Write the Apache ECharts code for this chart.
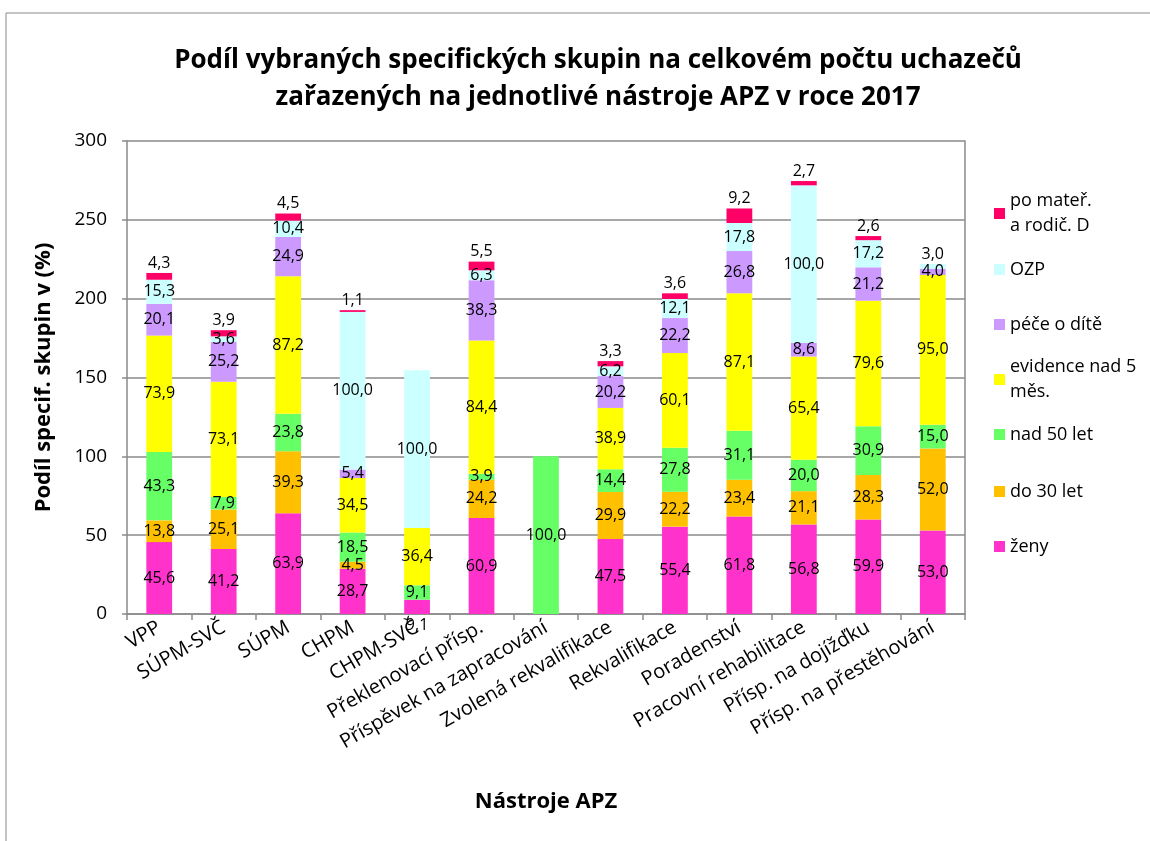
<!DOCTYPE html>
<html><head><meta charset="utf-8">
<script src="https://cdn.jsdelivr.net/npm/echarts@6/dist/echarts.min.js"></script>
<style>html,body{margin:0;padding:0;background:#fff}#c{width:1150px;height:841px}</style>
</head><body><div id="c"></div>
<script>
const categories = ['VPP','SÚPM-SVČ','SÚPM','CHPM','CHPM-SVČ','Překlenovací přísp.','Příspěvek na zapracování','Zvolená rekvalifikace','Rekvalifikace','Poradenství','Pracovní rehabilitace','Přísp. na dojížďku','Přísp. na přestěhování'];
const seriesNames = ['ženy','do 30 let','nad 50 let','evidence nad 5 měs.','péče o dítě','OZP','po mateř. a rodič. D'];
const zeny      = [45.6, 41.2, 63.9, 28.7, 9.1, 60.9, null, 47.5, 55.4, 61.8, 56.8, 59.9, 53.0];
const do30      = [13.8, 25.1, 39.3, 4.5, null, 24.2, null, 29.9, 22.2, 23.4, 21.1, 28.3, 52.0];
const nad50     = [43.3, 7.9, 23.8, 18.5, 9.1, 3.9, 100.0, 14.4, 27.8, 31.1, 20.0, 30.9, 15.0];
const evidence  = [73.9, 73.1, 87.2, 34.5, 36.4, 84.4, null, 38.9, 60.1, 87.1, 65.4, 79.6, 95.0];
const pece      = [20.1, 25.2, 24.9, 5.4, null, 38.3, null, 20.2, 22.2, 26.8, 8.6, 21.2, 4.0];
const ozp       = [15.3, 3.6, 10.4, 100.0, 100.0, 6.3, null, 6.2, 12.1, 17.8, 100.0, 17.2, 3.0];
const materska  = [4.3, 3.9, 4.5, 1.1, null, 5.5, null, 3.3, 3.6, 9.2, 2.7, 2.6, null];
const yTicks = [0, 50, 100, 150, 200, 250, 300];

const values = [zeny, do30, nad50, evidence, pece, ozp, materska];
const colors = ['#FF33CC','#FFC000','#66FF66','#FFFF00','#CC99FF','#CCFFFF','#FF0066'];
const FONT = '"Open Sans", "Noto Sans", sans-serif';
const fmt = p => (p.value == null ? '' : Number(p.value).toFixed(1).replace('.', ','));

const series = values.map((arr, si) => ({
  name: seriesNames[si],
  type: 'bar',
  stack: 'total',
  barWidth: '40%',
  itemStyle: { color: colors[si] },
  label: { show: true, position: si === 6 ? 'top' : 'inside', color: '#000', fontFamily: FONT, fontSize: 16, formatter: fmt, distance: 2 },
  labelLayout: { hideOverlap: false },
  data: arr.map((v, ci) => {
    if (v == null) return '-';
    // labels that sit outside their segment in the reference
    if (si === 0 && ci === 4) return { value: v, label: { position: 'bottom', distance: 3, offset: [8, 0] } };
    if (si === 5 && ci === 12) return { value: v, label: { position: 'top', distance: 2 } };
    return v;
  })
}));

const legendOrder = seriesNames.slice().reverse();
const legendTops = [176, 257, 312, 342, 422, 479, 534];
const wrapName = { 'po mateř. a rodič. D': 'po mateř.\na rodič. D', 'evidence nad 5 měs.': 'evidence nad 5\nměs.' };
const legends = legendOrder.map((n, i) => {
  const multi = !!wrapName[n];
  return {
    data: [n], left: 994, top: legendTops[i], orient: 'vertical', padding: 0,
    itemWidth: 11, itemHeight: 11, itemGap: 0, icon: 'rect',
    selectedMode: false,
    formatter: nm => wrapName[nm] || nm,
    textStyle: { fontFamily: FONT, fontSize: 18, color: '#000', lineHeight: 25, padding: multi ? [25, 0, 0, 0] : 0 }
  };
});

const chart = echarts.init(document.getElementById('c'), null, { renderer: 'canvas' });
chart.setOption({
  animation: false,
  backgroundColor: '#fff',
  title: {
    text: 'Podíl vybraných specifických skupin na celkovém počtu uchazečů\nzařazených na jednotlivé nástroje APZ v roce 2017',
    left: 593, top: 37, textAlign: 'center',
    textStyle: { fontFamily: FONT, fontWeight: 'bold', fontSize: 26, lineHeight: 37, color: '#000' }
  },
  legend: legends,
  grid: { left: 127, right: 185, top: 141, bottom: 227 },
  graphic: [
    { type: 'polyline', shape: { points: [[6, 841], [6, 13], [1150, 13]] }, style: { stroke: '#8a8a8a', lineWidth: 1, fill: null } }
  ],
  xAxis: {
    type: 'category', data: categories,
    name: 'Nástroje APZ', nameLocation: 'middle', nameGap: 177,
    nameTextStyle: { fontFamily: FONT, fontWeight: 'bold', fontSize: 22, color: '#000' },
    axisLine: { lineStyle: { color: '#8a8a8a', width: 1.5 } },
    axisTick: { show: true, length: 6, lineStyle: { color: '#8a8a8a', width: 1.5 } },
    axisLabel: { rotate: 30, interval: 0, fontFamily: FONT, fontSize: 20, color: '#000', margin: 12 }
  },
  yAxis: [{
    type: 'value', min: 0, max: 300, interval: 50,
    name: 'Podíl specif. skupin v (%)', nameLocation: 'middle', nameGap: 72, nameRotate: 90,
    nameTextStyle: { fontFamily: FONT, fontWeight: 'bold', fontSize: 22, color: '#000' },
    axisLine: { show: true, lineStyle: { color: '#8a8a8a', width: 1.5 } },
    axisTick: { show: true, length: 5, lineStyle: { color: '#8a8a8a', width: 1.5 } },
    axisLabel: { fontFamily: FONT, fontSize: 19, color: '#000', margin: 20, formatter: v => (yTicks.includes(v) ? String(v) : '') },
    splitLine: { lineStyle: { color: '#8a8a8a', width: 1.5 } }
  }, {
    type: 'value', min: 0, max: 300, interval: 50, position: 'right',
    axisLine: { show: true, lineStyle: { color: '#8a8a8a', width: 1.5 } },
    axisTick: { show: false }, axisLabel: { show: false }, splitLine: { show: false }
  }],
  series: series
});
</script></body></html>
